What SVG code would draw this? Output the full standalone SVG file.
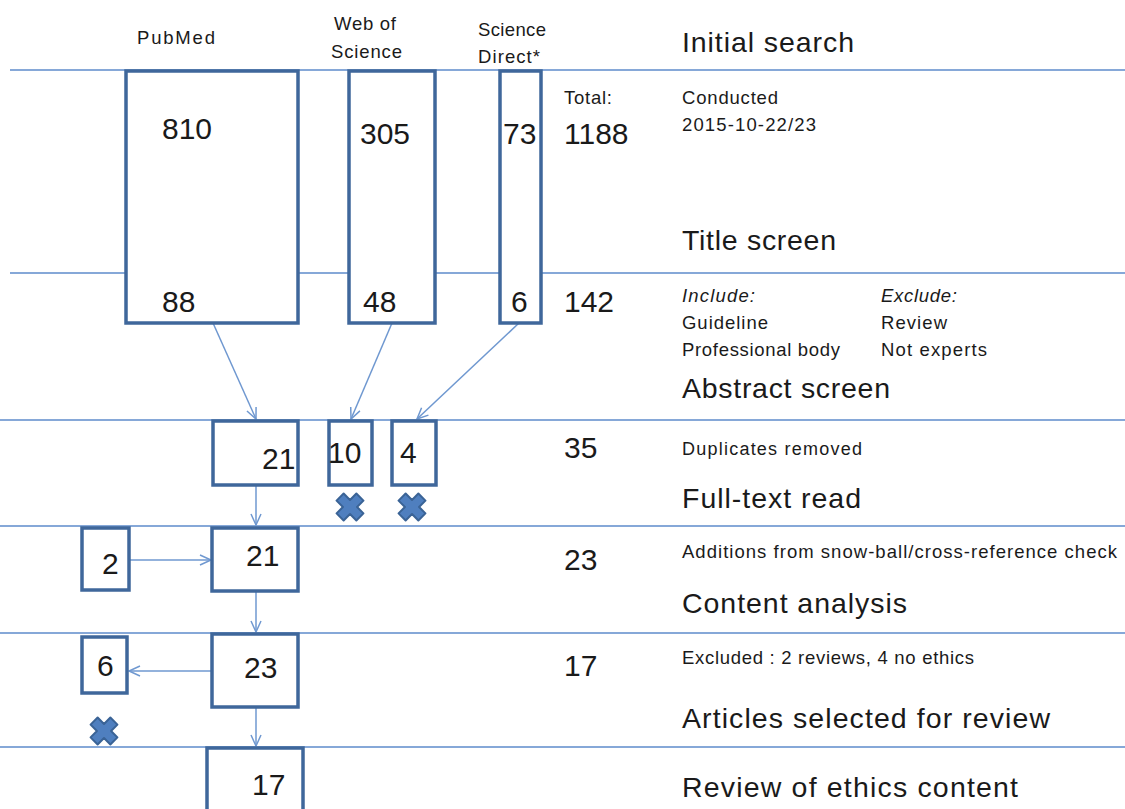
<svg xmlns="http://www.w3.org/2000/svg" width="1125" height="809" viewBox="0 0 1125 809">
<style>
.sep{stroke:#86a8d8;stroke-width:2;fill:none}
.box{fill:#fff;stroke:#3f679b;stroke-width:3.5}
.con{stroke:#6f98d0;stroke-width:1.5;fill:none}
text{font-family:"Liberation Sans",Arial,sans-serif;fill:#1a1a1a}
.num{font-size:30px}
.big{font-size:28.5px}
.sm{font-size:18.5px}
.xs{font-size:18px}
.hd{font-size:18.5px}
</style>
<defs>
<marker id="ah" markerUnits="userSpaceOnUse" markerWidth="14" markerHeight="14" refX="12" refY="6" orient="auto">
<path d="M1,1 L12,6 L1,11" fill="none" stroke="#6f98d0" stroke-width="1.5"/>
</marker>
<path id="xm" d="M-5,-14 H5 V-5 H14 V5 H5 V14 H-5 V5 H-14 V-5 H-5 Z" transform="rotate(45)" fill="#4f7fbf" stroke="#3a6396" stroke-width="2" stroke-linejoin="round"/>
</defs>
<rect width="1125" height="809" fill="#fff"/>
<g id="separators">
<line class="sep" x1="10" y1="70" x2="1125" y2="70"/>
<line class="sep" x1="10" y1="273" x2="1125" y2="273"/>
<line class="sep" x1="0" y1="420" x2="1125" y2="420"/>
<line class="sep" x1="0" y1="526" x2="1125" y2="526"/>
<line class="sep" x1="0" y1="633" x2="1125" y2="633"/>
<line class="sep" x1="0" y1="747" x2="1125" y2="747"/>
</g>
<g id="headers">
<text class="hd" x="137" y="44" textLength="78">PubMed</text>
<text class="hd" x="334" y="30" textLength="62">Web of</text>
<text class="hd" x="331" y="58" textLength="71">Science</text>
<text class="hd" x="478" y="36" textLength="68">Science</text>
<text class="hd" x="478" y="63" textLength="62">Direct*</text>
</g>
<g id="connectors">
<line class="con" x1="213" y1="323" x2="256" y2="419" marker-end="url(#ah)"/>
<line class="con" x1="392" y1="323" x2="351" y2="419" marker-end="url(#ah)"/>
<line class="con" x1="519" y1="323" x2="417" y2="419" marker-end="url(#ah)"/>
<line class="con" x1="256" y1="486" x2="256" y2="525" marker-end="url(#ah)"/>
<line class="con" x1="130" y1="560" x2="211" y2="560" marker-end="url(#ah)"/>
<line class="con" x1="256" y1="591" x2="256" y2="632" marker-end="url(#ah)"/>
<line class="con" x1="211" y1="671" x2="129" y2="671" marker-end="url(#ah)"/>
<line class="con" x1="256" y1="707" x2="256" y2="746" marker-end="url(#ah)"/>
</g>
<g id="pubmed">
<rect class="box" x="126" y="71" width="172" height="252"/>
<text class="num" x="162" y="139">810</text>
<text class="num" x="162" y="312">88</text>
</g>
<g id="wos">
<rect class="box" x="349" y="71" width="86" height="252"/>
<text class="num" x="360" y="144">305</text>
<text class="num" x="363" y="312">48</text>
</g>
<g id="sd">
<rect class="box" x="500" y="71" width="41" height="252"/>
<text class="num" x="503" y="144">73</text>
<text class="num" x="511" y="312">6</text>
</g>
<g id="totals">
<text class="sm" x="564" y="104" textLength="48">Total:</text>
<text class="num" x="564" y="144">1188</text>
<text class="num" x="564" y="312">142</text>
<text class="num" x="564" y="458">35</text>
<text class="num" x="564" y="570">23</text>
<text class="num" x="564" y="676">17</text>
</g>
<g id="pm21">
<rect class="box" x="213" y="421" width="85" height="64"/>
<text class="num" x="262" y="469">21</text>
</g>
<g id="wos10">
<rect class="box" x="329" y="421" width="43" height="64"/>
<text class="num" x="328" y="463">10</text>
<use href="#xm" x="350" y="507"/>
</g>
<g id="sd4">
<rect class="box" x="392" y="421" width="44" height="64"/>
<text class="num" x="400" y="463">4</text>
<use href="#xm" x="412" y="507"/>
</g>
<g id="add2">
<rect class="box" x="82" y="528" width="47" height="62"/>
<text class="num" x="102" y="574">2</text>
</g>
<g id="ft21">
<rect class="box" x="212" y="528" width="86" height="63"/>
<text class="num" x="246" y="566">21</text>
</g>
<g id="ex6">
<rect class="box" x="82" y="637" width="45" height="56"/>
<text class="num" x="97" y="676">6</text>
<use href="#xm" x="104" y="731"/>
</g>
<g id="ca23">
<rect class="box" x="212" y="634" width="86" height="73"/>
<text class="num" x="244" y="678">23</text>
</g>
<g id="final17">
<rect class="box" x="207" y="748" width="96" height="70"/>
<text class="num" x="252" y="795">17</text>
</g>
<g id="stages">
<text class="big" x="682" y="52" textLength="172">Initial search</text>
<text class="sm" x="682" y="104" textLength="96">Conducted</text>
<text class="sm" x="682" y="131" textLength="134">2015-10-22/23</text>
<text class="big" x="682" y="250" textLength="154">Title screen</text>
<text class="sm" x="682" y="302" font-style="italic" textLength="73">Include:</text>
<text class="sm" x="881" y="302" font-style="italic" textLength="76">Exclude:</text>
<text class="sm" x="682" y="329" textLength="86">Guideline</text>
<text class="sm" x="881" y="329" textLength="66">Review</text>
<text class="sm" x="682" y="356" textLength="158">Professional body</text>
<text class="sm" x="881" y="356" textLength="106">Not experts</text>
<text class="big" x="682" y="398" textLength="208">Abstract screen</text>
<text class="xs" x="682" y="455" textLength="180">Duplicates removed</text>
<text class="big" x="682" y="508" textLength="179">Full-text read</text>
<text class="sm" x="682" y="558" textLength="435">Additions from snow-ball/cross-reference check</text>
<text class="big" x="682" y="613" textLength="225">Content analysis</text>
<text class="sm" x="682" y="664" textLength="292">Excluded : 2 reviews, 4 no ethics</text>
<text class="big" x="682" y="728" textLength="368">Articles selected for review</text>
<text class="big" x="682" y="797" textLength="336">Review of ethics content</text>
</g>
</svg>
